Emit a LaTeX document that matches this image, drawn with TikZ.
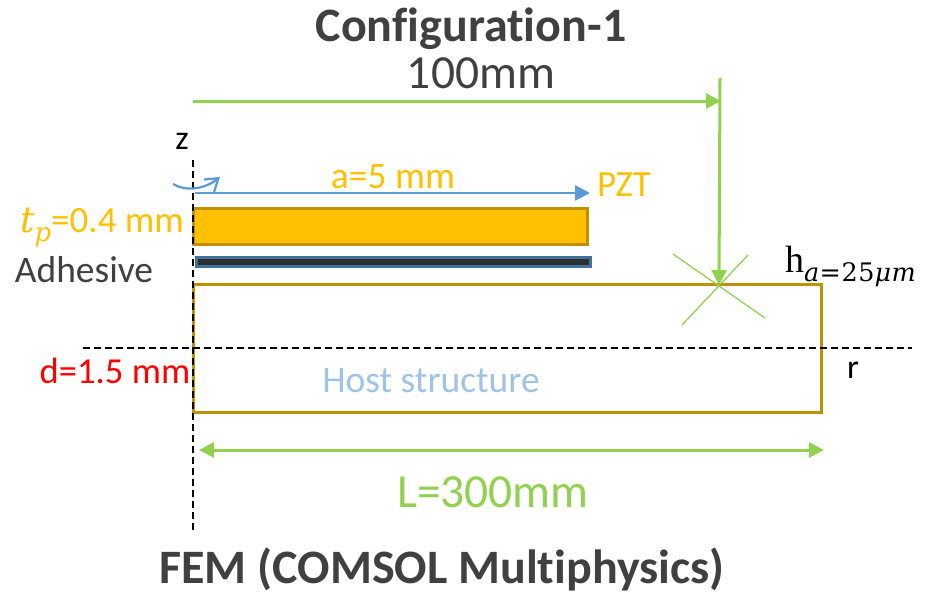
\documentclass[tikz,border=0pt]{standalone}
\usepackage{fontspec}
\setmainfont[Ligatures=NoCommon]{Carlito}
\newfontfamily\mathserif{DejaVu Serif}
\newfontfamily\hserif{Liberation Serif}
\usetikzlibrary{arrows.meta}
\definecolor{lgreen}{RGB}{146,208,80}
\definecolor{pztfill}{RGB}{255,192,0}
\definecolor{pztedge}{RGB}{191,144,0}
\definecolor{ablue}{RGB}{91,155,213}
\definecolor{hostblue}{RGB}{157,195,230}
\definecolor{darktext}{RGB}{64,64,64}
\definecolor{adhedge}{RGB}{65,113,156}
\tikzset{
  x=1pt,y=-1pt,
  lbl/.style={inner sep=0pt,outer sep=0pt,anchor=base},
  greenarrow/.style={draw=lgreen,line width=3pt,-{Triangle[length=15pt,width=15pt]}},
  greenthin/.style={draw=lgreen,line width=1.3pt},
  dimarrow/.style={draw=lgreen,line width=3pt,{Triangle[length=15pt,width=15pt]}-{Triangle[length=15pt,width=15pt]}},
  axisline/.style={draw=black,line width=1.6pt,dash pattern=on 7pt off 4pt},
  hostbox/.style={draw=pztedge,line width=3pt,inner sep=0pt,outer sep=0pt,anchor=north west},
}
\begin{document}
\begin{tikzpicture}
\useasboundingbox (0,0) rectangle (925,595);
% boxes
\node[hostbox,minimum width=628.6pt,minimum height=128pt] (host) at (193,284) {};
\node[draw=pztedge,fill=pztfill,line width=3pt,inner sep=0pt,outer sep=0pt,anchor=north west,minimum width=394.7pt,minimum height=36pt] (pzt) at (193,208) {};
\node[draw=adhedge,fill=black!82,line width=3pt,inner sep=0pt,outer sep=0pt,anchor=north west,minimum width=394.5pt,minimum height=9pt] (adh) at (196,257) {};
% axes
\coordinate (zt) at (193,160); \coordinate (zb) at (193,532);
\coordinate (rl) at (83,348); \coordinate (rr) at (912,348);
\draw[axisline] (zt) -- (zb);
\draw[axisline] (rl) -- (rr);
% cross
\coordinate (c1) at (673,254); \coordinate (c2) at (765,318);
\coordinate (c3) at (748,255); \coordinate (c4) at (682,325);
\draw[greenthin] (c1) -- (c2);
\draw[greenthin] (c3) -- (c4);
% 100mm
\coordinate (a1) at (193,101); \coordinate (a2) at (721,101);
\coordinate (a3) at (720,78); \coordinate (a4) at (719,285);
\draw[greenarrow] (a1) -- (a2);
\draw[greenarrow] (a3) -- (a4);
% a=5mm
\coordinate (b1) at (195,193); \coordinate (b2) at (590,193);
\draw[draw=ablue,line width=2.4pt,-{Triangle[length=15pt,width=15pt]}] (b1) -- (b2);
\coordinate (r1) at (173,184); \coordinate (r2) at (220,177);
\draw[draw=ablue,line width=2.2pt,-{Straight Barb[length=12pt,width=16pt]}] (r1) .. controls (186,192) and (205,189) .. (r2);
% L
\coordinate (l1) at (199,450); \coordinate (l2) at (824,450);
\draw[dimarrow] (l1) -- (l2);
% texts
\node[lbl,font=\fontsize{48}{48}\selectfont\bfseries,text=darktext] (title) at (471,41) {Configuration-1};
\node[lbl,font=\fontsize{47.5}{48}\selectfont,text=darktext] (t100) at (481,88) {100mm};
\node[lbl,font=\fontsize{34}{34}\selectfont,text=black] (z) at (182,149) {z};
\node[lbl,font=\fontsize{37.5}{38}\selectfont,text=pztfill] (a5) at (393,188) {a=5 mm};
\node[lbl,font=\fontsize{37}{38}\selectfont,text=pztfill] (pztl) at (624,196) {PZT};
\node[lbl,anchor=base east,font=\fontsize{37}{38}\selectfont,text=pztfill] (tp) at (184,232) {{\mathserif\itshape\fontsize{36}{36}\selectfont t\raisebox{-0.25em}{\fontsize{26}{26}\selectfont p}}=0.4 mm};
\node[lbl,font=\fontsize{37.5}{38}\selectfont,text=darktext] (adht) at (84,282) {Adhesive};
\node[lbl,anchor=base west,font=\fontsize{38}{38}\selectfont\hserif,text=black] (ha) at (785,272) {h\raisebox{-0.25em}{\mathserif\fontsize{25.5}{26}\selectfont\addfontfeature{LetterSpace=2}\textit{a}=25\textit{μm}}};
\node[lbl,font=\fontsize{36.6}{38}\selectfont,text=red] (d) at (115,383) {d=1.5 mm};
\node[lbl,font=\fontsize{37.5}{38}\selectfont,text=hostblue] (hostt) at (431,392) {Host structure};
\node[lbl,font=\fontsize{34}{34}\selectfont,text=black] (r) at (853,378) {r};
\node[lbl,font=\fontsize{47.5}{48}\selectfont,text=lgreen] (L) at (493,507) {L=300mm};
\node[lbl,font=\fontsize{48}{48}\selectfont\bfseries,text=darktext] (fem) at (442,583) {FEM (COMSOL Multiphysics)};
\end{tikzpicture}
\end{document}
